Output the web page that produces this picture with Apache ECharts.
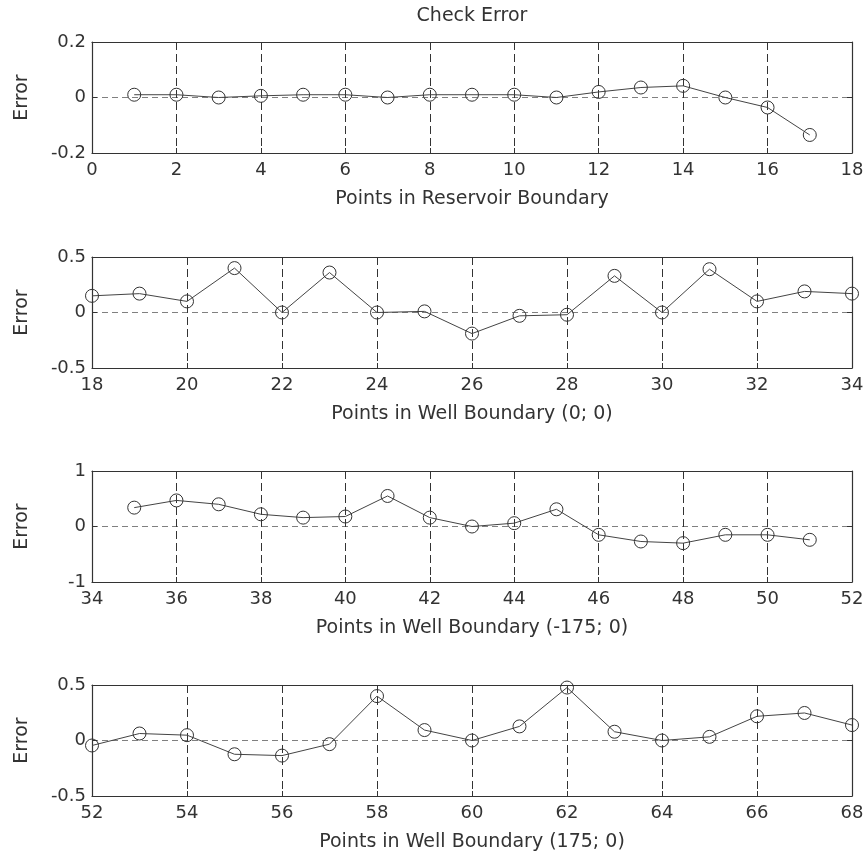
<!DOCTYPE html>
<html>
<head>
<meta charset="utf-8">
<script src="https://cdn.jsdelivr.net/npm/echarts@6/dist/echarts.min.js"></script>
<style>
  html, body { margin: 0; padding: 0; background: #fff; }
  #main { width: 867px; height: 856px; }
</style>
</head>
<body>
<div id="main"></div>
<script>
// point numbers and check errors
const reservoirX = [1, 2, 3, 4, 5, 6, 7, 8, 9, 10, 11, 12, 13, 14, 15, 16, 17]
const reservoirErr = [0.01, 0.01, 0, 0.006, 0.01, 0.01, 0, 0.01, 0.01, 0.01, 0, 0.02, 0.036, 0.042, 0, -0.036, -0.135]

const wellCenterX = [18, 19, 20, 21, 22, 23, 24, 25, 26, 27, 28, 29, 30, 31, 32, 33, 34]
const wellCenterErr = [0.15, 0.17, 0.1, 0.4, 0, 0.36, 0, 0.01, -0.19, -0.03, -0.02, 0.33, 0, 0.39, 0.1, 0.19, 0.17]

const wellLeftX = [35, 36, 37, 38, 39, 40, 41, 42, 43, 44, 45, 46, 47, 48, 49, 50, 51]
const wellLeftErr = [0.34, 0.47, 0.4, 0.22, 0.16, 0.18, 0.55, 0.16, 0, 0.06, 0.31, -0.15, -0.27, -0.3, -0.15, -0.15, -0.24]

const wellRightX = [52, 53, 54, 55, 56, 57, 58, 59, 60, 61, 62, 63, 64, 65, 66, 67, 68]
const wellRightErr = [-0.045, 0.063, 0.048, -0.124, -0.136, -0.033, 0.4, 0.094, 0, 0.127, 0.477, 0.079, 0, 0.033, 0.218, 0.248, 0.139]

const xTitles = [
  'Points in Reservoir Boundary',
  'Points in Well Boundary (0; 0)',
  'Points in Well Boundary (-175; 0)',
  'Points in Well Boundary (175; 0)'
]
const xRanges = [[0, 18], [18, 34], [34, 52], [52, 68]]
const yLimits = [0.2, 0.5, 1, 0.5]

const panels = [
  [reservoirX, reservoirErr],
  [wellCenterX, wellCenterErr],
  [wellLeftX, wellLeftErr],
  [wellRightX, wellRightErr]
]

const FONT = 'DejaVu Sans'
const INK = '#333'
const gridTops = [42, 257, 471, 685]

const grid = []
const xAxis = []
const yAxis = []
const series = []

const vDash = { show: true, lineStyle: { color: '#333', type: [8, 4], width: 1 } }
const hDash = { show: true, lineStyle: { color: '#808080', type: [6, 4], width: 1 } }
const tick = { show: true, inside: true, length: 5, lineStyle: { color: INK } }
const line = { show: true, onZero: false, lineStyle: { color: INK, width: 1.2 } }

for (let i = 0; i < 4; i++) {
  grid.push({ left: 92, width: 760, top: gridTops[i], height: 111 })

  const xr = xRanges[i]
  const base = { type: 'value', gridIndex: i, min: xr[0], max: xr[1], interval: 2 }
  xAxis.push(Object.assign({}, base, {
    position: 'bottom',
    name: xTitles[i],
    nameLocation: 'middle',
    nameGap: 37,
    nameTextStyle: { fontFamily: FONT, fontSize: 19, color: INK },
    axisLine: line,
    axisTick: tick,
    splitLine: vDash,
    axisLabel: { fontFamily: FONT, fontSize: 18, color: INK, margin: 8, showMinLabel: true, showMaxLabel: true }
  }))
  xAxis.push(Object.assign({}, base, {
    position: 'top',
    axisLine: line,
    axisTick: tick,
    splitLine: { show: false },
    axisLabel: { show: false }
  }))

  const lim = yLimits[i]
  const ybase = { type: 'value', gridIndex: i, min: -lim, max: lim, interval: lim }
  yAxis.push(Object.assign({}, ybase, {
    position: 'left',
    name: 'Error',
    nameLocation: 'middle',
    nameGap: 60,
    nameTextStyle: { fontFamily: FONT, fontSize: 19, color: INK },
    axisLine: line,
    axisTick: tick,
    splitLine: hDash,
    axisLabel: { fontFamily: FONT, fontSize: 18, color: INK, margin: 6 }
  }))
  yAxis.push(Object.assign({}, ybase, {
    position: 'right',
    axisLine: line,
    axisTick: tick,
    splitLine: { show: false },
    axisLabel: { show: false }
  }))

  const xs = panels[i][0]
  const ys = panels[i][1]
  series.push({
    type: 'line',
    xAxisIndex: i * 2,
    yAxisIndex: i * 2,
    data: xs.map((x, k) => [x, ys[k]]),
    symbol: 'circle',
    symbolSize: 13,
    lineStyle: { color: '#444', width: 1 },
    itemStyle: { color: 'rgba(0,0,0,0)', borderColor: INK, borderWidth: 1 },
    z: 5
  })
}

const myChart = echarts.init(document.getElementById('main'))
myChart.setOption({
  backgroundColor: '#fff',
  animation: false,
  title: {
    text: 'Check Error',
    left: 472,
    top: 7,
    padding: 0,
    textAlign: 'center',
    textStyle: { fontFamily: FONT, fontSize: 19, fontWeight: 'normal', color: INK }
  },
  grid,
  xAxis,
  yAxis,
  series
})
</script>
</body>
</html>
